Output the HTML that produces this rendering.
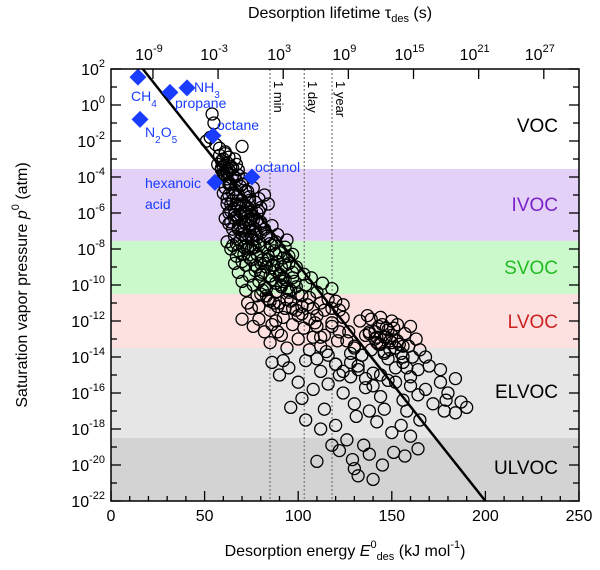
<!DOCTYPE html>
<html><head><meta charset="utf-8"><style>
body{margin:0;background:#fff}
svg{display:block;font-family:"Liberation Sans",Arial,sans-serif}
</style></head><body>
<svg id="chart" width="600" height="570" viewBox="0 0 600 570">
<g id="bands"></g><g id="grid"></g><g id="pts"></g><g id="axes"></g><g id="labels"></g>
</svg>
<script>
const xTicksBottom=[0,50,100,150,200,250];
const yTickExps=[2,0,-2,-4,-6,-8,-10,-12,-14,-16,-18,-20,-22];
const topTickExps=[-9,-3,3,9,15,21,27];
const bandNames=["IVOC","SVOC","LVOC","ELVOC","ULVOC"];
const bandTops=[-3.55,-7.55,-10.5,-13.5,-18.5];
const bandBottoms=[-7.55,-10.5,-13.5,-18.5,-22];
const bandColors=["#e3d1f7","#ccf9cc","#fde0e0","#e6e6e6","#d3d3d3"];
const classLabels=["VOC","IVOC","SVOC","LVOC","ELVOC","ULVOC"];
const classLogP=[-1.1,-5.5,-9.0,-12.0,-15.9,-20.1];
const classColors=["#000","#7b22c8","#22bb22","#cc2222","#000","#000"];
const lifetimeMarks=["1 min","1 day","1 year"];
const lifetimeSeconds=[60,86400,3.15e7];
const fitLineE=[17,200];
const fitLineLogP=[2,-22];
const refNames=["CH4","propane","NH3","N2O5","octane","hexanoic acid","octanol"];
const refE=[14.4,31.5,40.6,15.5,54.5,55.5,75.3];
const refLogP=[1.55,0.7,0.95,-0.8,-1.7,-4.3,-4.0];
const ptE=[54,55,53,51,56,58,60,62,57,61,70,64,66,59,63,65,67,68,62,60,
60,62,63,64,65,66,67,68,69,70,71,72,73,74,75,76,77,78,79,80,61,63,65,66,68,70,62,64,67,82,84,
61,63,65,66,68,69,70,71,72,73,74,75,76,77,78,79,80,81,82,83,84,85,86,87,88,89,90,91,92,93,95,97,99,64,67,70,72,74,77,80,83,86,89,94,62,66,78,75,73,69,
68,70,72,74,76,78,80,82,84,86,88,90,92,94,96,98,100,102,104,106,108,110,112,114,116,118,120,122,124,79,85,93,97,103,73,88,75,99,107,113,118,
76,79,82,85,88,91,94,97,100,103,106,109,112,115,118,121,124,127,130,133,136,139,141,143,145,147,149,151,153,155,157,159,161,163,146,150,144,142,152,148,165,168,134,128,92,110,139,156,137,160,70,
86,90,95,100,104,108,112,116,120,124,128,132,136,140,144,148,152,156,160,164,168,172,176,180,184,187,190,178,170,102,96,114,130,138,146,122,158,110,92,
104,112,120,126,131,135,142,150,155,110,122,129,130,132,138,145,151,157,164,140,118,160,165,176,179,184,
58,59,60,61,62,63,64,65,66,67,68,69,70,71,72,73,74,60,62,64,66,68,70,72,74,63,65,67,69,71,73,75,77,61,64,66,69,72,59,63,67,71,76,79,65,68,71,74,77,80,
72,74,76,78,80,82,84,86,88,90,73,75,77,79,81,83,85,87,89,91,93,95,97,76,79,82,85,88,91,94,97,100,78,81,84,87,90,93,96,99,102,105,80,83,86,89,92,95,
102,106,110,114,118,122,126,130,134,138,142,146,150,154,158,108,112,116,120,124,128,132,136,140,144,148,152,156,160,164,138,141,144,147,150,153,156,143,146,149];
const ptLogP=[-0.5,-1,-1.8,-2,-2.2,-2.8,-3,-3.2,-3.3,-2.6,-2.3,-3.4,-3.0,-3.5,-2.9,-3.5,-3.3,-3.6,-3.7,-3.9,
-3.8,-4.1,-3.6,-4.4,-3.9,-4.7,-4.2,-5.0,-4.5,-5.3,-4.1,-5.6,-4.8,-5.1,-5.9,-4.6,-5.4,-6.0,-5.2,-5.7,-4.6,-5.0,-5.3,-5.8,-5.6,-6.0,-5.5,-5.9,-6.2,-5.0,-5.5,
-6.3,-6.6,-6.9,-7.3,-6.8,-7.5,-7.0,-6.5,-7.8,-7.2,-6.7,-8.0,-7.5,-6.9,-8.3,-7.6,-7.1,-8.6,-7.9,-7.3,-8.4,-7.7,-8.9,-8.1,-7.6,-8.7,-8.2,-9.0,-8.5,-7.9,-8.8,-8.3,-9.0,-8.0,-8.4,-8.7,-8.9,-8.5,-8.9,-8.8,-9.0,-6.7,-7.2,-7.5,-7.6,-8.8,-6.4,-6.3,-6.2,-6.1,
-9.3,-9.8,-10.3,-9.5,-10.0,-10.6,-9.4,-10.1,-10.8,-9.7,-10.4,-11.0,-9.6,-10.2,-10.9,-9.8,-10.5,-11.2,-10.0,-10.7,-11.3,-10.4,-11.0,-11.4,-10.8,-11.3,-10.9,-11.4,-11.1,-11.2,-11.4,-11.3,-9.3,-9.4,-11.0,-9.2,-11.3,-11.4,-9.6,-9.9,-10.2,
-12.3,-11.9,-12.6,-13.2,-12.0,-12.8,-13.5,-12.2,-13.0,-12.4,-13.6,-12.1,-12.9,-13.7,-12.3,-13.1,-11.8,-12.6,-13.4,-12.0,-12.8,-11.9,-12.6,-13.3,-12.2,-12.9,-13.6,-12.4,-13.1,-13.8,-12.7,-13.4,-14.0,-13.0,-13.7,-12.0,-11.8,-12.9,-13.5,-12.5,-13.6,-14.0,-13.9,-13.8,-11.8,-11.7,-13.6,-14.0,-11.7,-12.3,-11.9,
-14.3,-15.0,-14.6,-15.4,-14.2,-15.8,-14.8,-15.5,-14.4,-16.0,-15.1,-14.5,-15.7,-14.9,-16.2,-15.3,-14.6,-16.4,-15.1,-14.7,-15.8,-16.6,-15.4,-16.0,-15.2,-16.5,-16.8,-17.0,-14.5,-16.3,-16.8,-16.9,-16.6,-17.0,-16.9,-15.0,-17.0,-14.1,-14.2,
-17.5,-18.0,-17.8,-18.6,-17.3,-18.9,-17.6,-18.2,-17.8,-19.8,-19.2,-19.7,-20.2,-20.6,-19.4,-20.0,-19.3,-19.5,-19.1,-20.8,-18.9,-18.4,-17.5,-14.7,-16.4,-17.1,
-2.4,-3.1,-3.4,-2.7,-3.8,-4.3,-3.5,-4.9,-4.0,-5.1,-3.9,-5.5,-4.4,-6.0,-4.8,-6.4,-5.3,-4.9,-5.2,-6.5,-6.1,-6.9,-7.2,-6.6,-7.0,-4.4,-4.9,-5.5,-5.9,-6.8,-5.7,-7.3,-7.9,-3.9,-5.5,-6.3,-6.7,-7.4,-3.6,-6.0,-7.7,-7.9,-6.4,-5.9,-7.8,-8.1,-8.3,-7.9,-7.2,-6.6,
-6.0,-6.4,-6.8,-7.2,-6.5,-6.9,-7.4,-7.8,-8.3,-9.5,-8.0,-8.6,-9.2,-9.8,-10.3,-10.6,-10.9,-11.0,-11.2,-10.0,-8.9,-8.4,-9.6,-7.9,-7.8,-8.8,-9.5,-9.9,-10.1,-10.8,-11.3,-11.7,-9.0,-9.3,-8.6,-8.9,-9.4,-9.7,-10.3,-10.1,-10.6,-11.1,-10.5,-10.2,-12.2,-12.6,-9.8,-10.4,
-11.6,-11.9,-12.3,-12.8,-12.1,-12.6,-13.1,-13.5,-13.9,-12.6,-13.2,-13.8,-12.8,-13.3,-14.6,-12.9,-13.4,-13.9,-14.4,-14.8,-14.3,-14.7,-15.2,-15.6,-15.0,-14.1,-15.4,-14.3,-15.6,-16.1,-12.7,-13.0,-13.3,-12.4,-13.2,-12.2,-13.4,-12.3,-12.9,-13.1];

const X0=111,X1=579,Y0=69,Y1=501;
const xs=e=>X0+(e-0)*(X1-X0)/250;
const ys=l=>Y0+(2-l)*(Y1-Y0)/24;
const eFromTau=lt=>92+(lt-3)*5.8;
const NS="http://www.w3.org/2000/svg";
function mk(tag,attrs,parent,text){const el=document.createElementNS(NS,tag);for(const k in attrs)el.setAttribute(k,attrs[k]);if(text!==undefined)el.textContent=text;parent.appendChild(el);return el;}
const svgEl=document.getElementById('chart');
const gB=document.getElementById('bands'),gG=document.getElementById('grid'),gP=document.getElementById('pts'),gA=document.getElementById('axes'),gL=document.getElementById('labels');

bandNames.forEach((n,i)=>{
 const r=mk('rect',{x:X0,y:ys(bandTops[i]),width:X1-X0,height:ys(bandBottoms[i])-ys(bandTops[i]),fill:bandColors[i]},gB);
 
 
});
lifetimeSeconds.forEach((s,i)=>{
 const x=xs(eFromTau(Math.log10(s)));
 const l=mk('line',{x1:x,x2:x,y1:Y0,y2:Y1,stroke:'#777','stroke-width':1.2,'stroke-dasharray':'2,2'},gG);
 
 
 const t=mk('text',{x:x+4,y:Y0+12,'font-size':13,transform:`rotate(90 ${x+4} ${Y0+12})`},gG,lifetimeMarks[i]);
 
 
});
const nPts=Math.min(ptE.length,ptLogP.length);
for(let i=0;i<nPts;i++){
 const c=mk('circle',{cx:xs(ptE[i]),cy:ys(ptLogP[i]),r:6,fill:'none',stroke:'#000','stroke-width':1.3},gP);
 
 
}
const fl=mk('line',{x1:xs(fitLineE[0]),y1:ys(fitLineLogP[0]),x2:xs(fitLineE[1]),y2:ys(fitLineLogP[1]),stroke:'#000','stroke-width':2.5},gP);


refE.forEach((e,i)=>{
 const x=xs(e),y=ys(refLogP[i]);
 const d=mk('rect',{x:x-6,y:y-6,width:12,height:12,fill:'#1a3cff',transform:`rotate(45 ${x} ${y})`},gP);
 
 
});
const refLab=[["CH<tspan baseline-shift='sub' font-size='10'>4</tspan>",131,101],["NH<tspan baseline-shift='sub' font-size='10'>3</tspan>",194,92],["propane",175,108],["N<tspan baseline-shift='sub' font-size='10'>2</tspan>O<tspan baseline-shift='sub' font-size='10'>5</tspan>",145,137],["octane",217,130],["octanol",255,172],["hexanoic",145,188],["acid",145,209]];
refLab.forEach(r=>{const t=mk('text',{x:r[1],y:r[2],'font-size':14,fill:'#1a3cff'},gL);t.innerHTML=r[0];
 
 });
classLabels.forEach((n,i)=>{
 const t=mk('text',{x:558,y:ys(classLogP[i])+7,'font-size':19,'text-anchor':'end',fill:classColors[i]},gL,n);
 
 
});
const fr=mk('rect',{x:X0,y:Y0,width:X1-X0,height:Y1-Y0,fill:'none',stroke:'#000','stroke-width':1.5},gA);


for(let e=0;e<=250;e+=10){const x=xs(e),maj=e%50===0;
 mk('line',{x1:x,x2:x,y1:Y1,y2:Y1-(maj?10:5),stroke:'#000','stroke-width':1.3},gA);}
xTicksBottom.forEach(e=>{const t=mk('text',{x:xs(e),y:Y1+20,'font-size':16,'text-anchor':'middle'},gA,String(e));
 
 });
for(let l=2;l>=-22;l--){const y=ys(l),maj=l%2===0;
 mk('line',{x1:X0,x2:X0+(maj?10:6),y1:y,y2:y,stroke:'#000','stroke-width':1.3},gA);
 mk('line',{x1:X1,x2:X1-(maj?10:6),y1:y,y2:y,stroke:'#000','stroke-width':1.3},gA);}
yTickExps.forEach(l=>{const t=mk('text',{x:X0-6,y:ys(l)+6,'font-size':16,'text-anchor':'end'},gA);
 t.innerHTML=`10<tspan dy="-8" font-size="11">${l}</tspan>`;
 
 });
topTickExps.forEach(lt=>{const x=xs(eFromTau(lt));
 mk('line',{x1:x,x2:x,y1:Y0,y2:Y0+10,stroke:'#000','stroke-width':1.3},gA);
 const t=mk('text',{x:x-4,y:Y0-9,'font-size':16,'text-anchor':'middle'},gA);
 t.innerHTML=`10<tspan dy="-8" font-size="11">${lt}</tspan>`;
 
 });
const t1=mk('text',{x:345,y:556,'font-size':16,'text-anchor':'middle'},svgEl);
t1.innerHTML='Desorption energy <tspan font-style="italic">E</tspan><tspan dy="-8" font-size="11">0</tspan><tspan dy="12" font-size="11">des</tspan><tspan dy="-4"> (kJ mol</tspan><tspan dy="-8" font-size="11">-1</tspan><tspan dy="8">)</tspan>';


const t2=mk('text',{x:27,y:285,'font-size':16,'text-anchor':'middle',transform:'rotate(-90 27 285)'},svgEl);
t2.innerHTML='Saturation vapor pressure <tspan font-style="italic">p</tspan><tspan dy="-8" font-size="11">0</tspan><tspan dy="8"> (atm)</tspan>';


const t3=mk('text',{x:340,y:18,'font-size':16,'text-anchor':'middle'},svgEl);
t3.innerHTML='Desorption lifetime τ<tspan dy="4" font-size="11">des</tspan><tspan dy="-4"> (s)</tspan>';


</script>
</body></html>
